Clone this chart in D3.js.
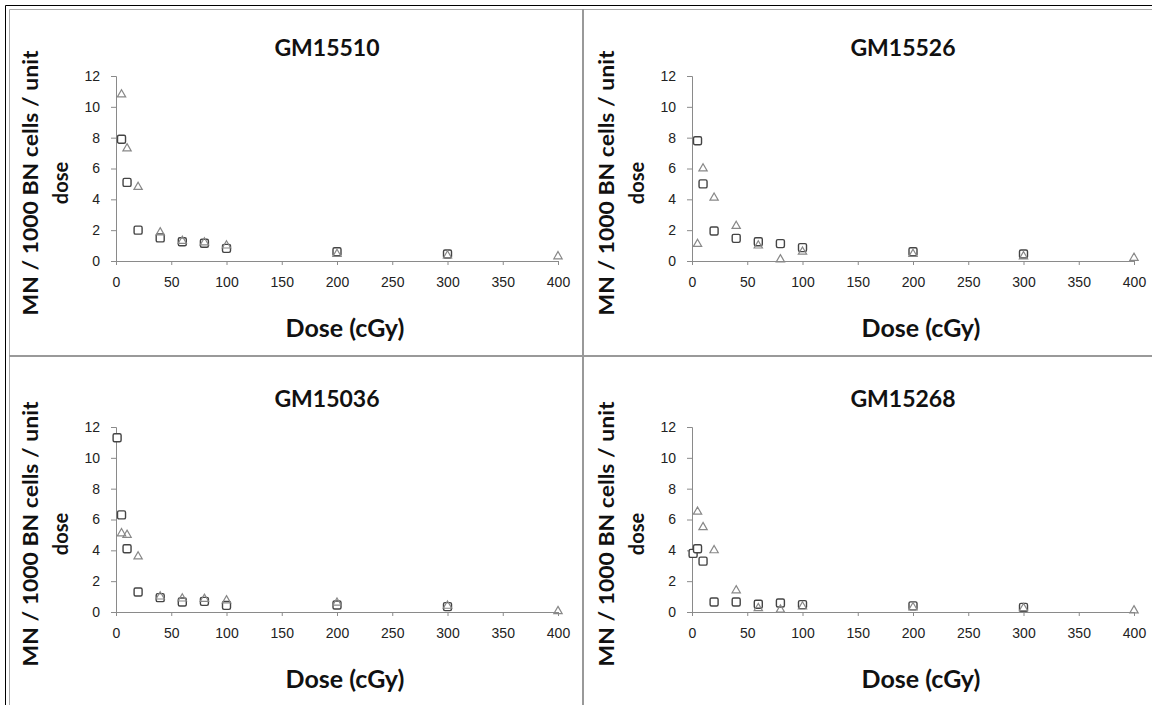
<!DOCTYPE html>
<meta charset="utf-8">
<style>
body { margin: 0; background: #fff; }
svg { display: block; font-family: Lato, "Open Sans", sans-serif; }
.tick text { fill: #222; font-size: 14px; }
.axis path, .axis line { stroke: #8a8a8a; }
</style>
<svg width="1152" height="705"></svg>
<script src="https://cdn.jsdelivr.net/npm/d3@7"></script>
<script>
// panel names
var names = ["GM15510", "GM15526", "GM15036", "GM15268"];

// squares (first series)
var sqDose1 = [5, 10, 20, 40, 60, 80, 100, 200, 300];
var sqVal1  = [7.9, 5.1, 2.0, 1.5, 1.25, 1.15, 0.82, 0.6, 0.45];
var sqDose2 = [5, 10, 20, 40, 60, 80, 100, 200, 300];
var sqVal2  = [7.8, 5.0, 1.95, 1.47, 1.25, 1.13, 0.87, 0.6, 0.45];
var sqDose3 = [1, 5, 10, 20, 40, 60, 80, 100, 200, 300];
var sqVal3  = [11.3, 6.3, 4.1, 1.3, 0.93, 0.65, 0.69, 0.43, 0.45, 0.35];
var sqDose4 = [1, 5, 10, 20, 40, 60, 80, 100, 200, 300];
var sqVal4  = [3.8, 4.1, 3.3, 0.65, 0.65, 0.5, 0.58, 0.48, 0.4, 0.3];

// triangles (second series)
var trDose = [5, 10, 20, 40, 60, 80, 100, 200, 300, 400];
var trVal1 = [10.8, 7.3, 4.8, 1.85, 1.3, 1.2, 1.0, 0.45, 0.35, 0.3];
var trVal2 = [1.1, 6.0, 4.1, 2.27, 1.0, 0.1, 0.6, 0.45, 0.3, 0.2];
var trVal3 = [5.1, 5.0, 3.6, 1.0, 0.87, 0.85, 0.75, 0.6, 0.4, 0.05];
var trVal4 = [6.5, 5.5, 4.0, 1.4, 0.25, 0.15, 0.35, 0.3, 0.25, 0.1];

var xTicks = [0, 50, 100, 150, 200, 250, 300, 350, 400];
var yTicks = [0, 2, 4, 6, 8, 10, 12];

var sqDoses = [sqDose1, sqDose2, sqDose3, sqDose4];
var sqVals = [sqVal1, sqVal2, sqVal3, sqVal4];
var trVals = [trVal1, trVal2, trVal3, trVal4];

var svg = d3.select("svg");

// table frame
svg.append("line").attr("x1", 5.5).attr("y1", 5.5).attr("x2", 1152).attr("y2", 5.5).attr("stroke", "#000");
svg.append("line").attr("x1", 5.5).attr("y1", 5.5).attr("x2", 5.5).attr("y2", 705).attr("stroke", "#000");
svg.append("line").attr("x1", 9.5).attr("y1", 9.5).attr("x2", 1152).attr("y2", 9.5).attr("stroke", "#aaa");
svg.append("line").attr("x1", 9.5).attr("y1", 9.5).attr("x2", 9.5).attr("y2", 705).attr("stroke", "#aaa");
svg.append("line").attr("x1", 583).attr("y1", 9).attr("x2", 583).attr("y2", 705).attr("stroke", "#999").attr("stroke-width", 2);
svg.append("line").attr("x1", 9).attr("y1", 356).attr("x2", 1152).attr("y2", 356).attr("stroke", "#999").attr("stroke-width", 2);

var x = d3.scaleLinear().domain([0, 400]).range([0, 442]);
var y = d3.scaleLinear().domain([0, 12]).range([185, 0]);

var offs = [[116, 76], [692, 76], [116, 427], [692, 427]];

names.forEach(function(name, i) {
  var g = svg.append("g").attr("transform", "translate(" + offs[i][0] + "," + offs[i][1] + ")");

  g.append("text").attr("x", 211).attr("y", -20).attr("text-anchor", "middle")
    .attr("font-size", 23).attr("font-weight", "bold").attr("fill", "#111").text(name);

  g.append("g").attr("class", "axis").attr("transform", "translate(0,185)")
    .call(d3.axisBottom(x).tickValues(xTicks).tickSizeOuter(0).tickSize(4).tickPadding(12));
  g.append("g").attr("class", "axis")
    .call(d3.axisLeft(y).tickValues(yTicks).tickSizeOuter(0).tickSize(5).tickPadding(11));

  g.append("text").attr("x", 229).attr("y", 261).attr("text-anchor", "middle")
    .attr("font-size", 25).attr("font-weight", "bold").attr("fill", "#111").text("Dose (cGy)");

  var yl = g.append("text").attr("transform", "rotate(-90)").attr("text-anchor", "middle")
    .attr("font-size", 20).attr("font-weight", "bold").attr("fill", "#111");
  yl.append("tspan").attr("x", -107).attr("y", -78)
    .attr("textLength", 265).attr("lengthAdjust", "spacingAndGlyphs").text("MN / 1000 BN cells / unit");
  yl.append("tspan").attr("x", -107).attr("y", -48).text("dose");

  var sq = sqDoses[i].map(function(d, k) { return {dose: d, v: sqVals[i][k]}; });
  var tr = trDose.map(function(d, k) { return {dose: d, v: trVals[i][k]}; });

  g.selectAll(".sq").data(sq).enter().append("rect").attr("class", "sq")
    .attr("x", function(d) { return x(d.dose) - 4; })
    .attr("y", function(d) { return y(d.v) - 4; })
    .attr("width", 8).attr("height", 8).attr("rx", 1.5)
    .attr("fill", "#fff").attr("stroke", "#444").attr("stroke-width", 1.4);

  g.selectAll(".tr").data(tr).enter().append("path").attr("class", "tr")
    .attr("transform", function(d) { return "translate(" + x(d.dose) + "," + y(d.v) + ")"; })
    .attr("d", d3.symbol(d3.symbolTriangle, 30))
    .attr("fill", "none").attr("stroke", "#888").attr("stroke-width", 1.2);
});
</script>
